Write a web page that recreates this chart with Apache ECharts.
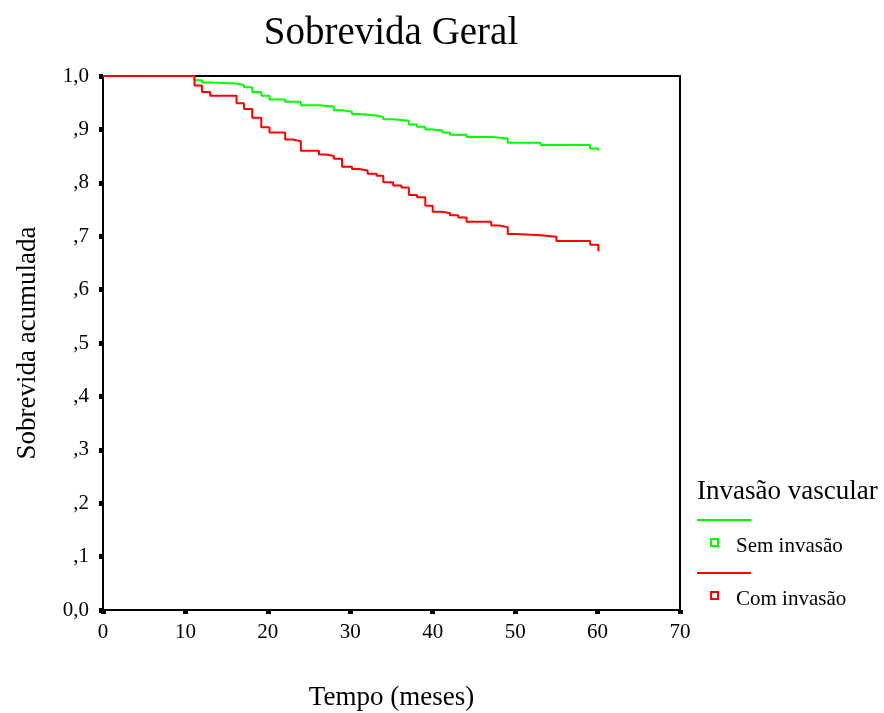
<!DOCTYPE html>
<html>
<head>
<meta charset="utf-8">
<script src="https://cdn.jsdelivr.net/npm/echarts@6/dist/echarts.min.js"></script>
<style>html,body{margin:0;padding:0;background:#fff}#c{width:884px;height:713px}</style>
</head>
<body>
<div id="c"></div>
<script>
// Kaplan-Meier steps: [time (months), cumulative survival]
const semInvasaoTime = [0, 11.1, 12.0, 13.0, 16.2, 17.1, 18.1, 19.2, 20.2, 22.1, 24.0, 26.2, 28.0, 29.0, 30.2, 31.1, 33.2, 34.0, 35.2, 37.1, 38.1, 39.1, 40.0, 41.2, 42.1, 44.1, 47.1, 49.1, 53.1, 59.1, 60.1];
const semInvasaoSurv = [1.0, 0.992, 0.988, 0.986, 0.983, 0.979, 0.970, 0.963, 0.956, 0.952, 0.945, 0.943, 0.936, 0.933, 0.929, 0.926, 0.923, 0.919, 0.916, 0.909, 0.905, 0.900, 0.898, 0.894, 0.890, 0.886, 0.883, 0.875, 0.871, 0.864, 0.860];
const comInvasaoTime = [0, 11.1, 12.0, 13.0, 16.2, 17.1, 18.1, 19.2, 20.2, 22.1, 23.0, 24.0, 26.2, 27.1, 28.0, 29.0, 30.2, 31.1, 32.1, 33.2, 34.0, 35.2, 36.2, 37.1, 38.1, 39.1, 40.0, 41.2, 42.1, 43.1, 44.1, 47.1, 48.1, 49.1, 50.1, 53.1, 55.0, 59.1, 60.1];
const comInvasaoSurv = [1.0, 0.982, 0.970, 0.963, 0.949, 0.938, 0.922, 0.904, 0.894, 0.881, 0.878, 0.860, 0.853, 0.850, 0.845, 0.830, 0.826, 0.823, 0.817, 0.813, 0.801, 0.795, 0.791, 0.777, 0.773, 0.757, 0.746, 0.743, 0.739, 0.735, 0.727, 0.720, 0.717, 0.704, 0.702, 0.699, 0.691, 0.684, 0.672];
const seriesNames = ['Sem invasão', 'Com invasão'];
const seriesColors = ['#00ff00', '#ff0000'];
const yTickLabels = ['0,0', ',1', ',2', ',3', ',4', ',5', ',6', ',7', ',8', ',9', '1,0'];
const xTicks = [0, 10, 20, 30, 40, 50, 60, 70];

const zip = (a, b) => a.map((t, i) => [t, b[i]]);
const font = 'Liberation Serif';
const chart = echarts.init(document.getElementById('c'));
chart.setOption({
  backgroundColor: '#fff',
  animation: false,
  title: {
    text: 'Sobrevida Geral', left: 386, top: 9, textAlign: 'center',
    textStyle: { fontFamily: font, fontSize: 39, fontWeight: 'normal', color: '#000' }
  },
  grid: { left: 103, right: 204, top: 76, bottom: 103, outerBoundsMode: 'none', containLabel: false, show: true, borderColor: '#000', borderWidth: 2, backgroundColor: 'transparent' },
  xAxis: {
    type: 'value', min: 0, max: 70, interval: 10,
    name: 'Tempo (meses)', nameLocation: 'middle', nameGap: 74,
    nameTextStyle: { fontFamily: font, fontSize: 27, color: '#000' },
    axisLine: { show: true, lineStyle: { color: '#000', width: 2 } },
    axisTick: { show: true, length: 4, lineStyle: { color: '#000', width: 5 } },
    axisLabel: { margin: 12, fontFamily: font, fontSize: 21, color: '#000', formatter: v => xTicks.includes(v) ? String(v) : '' },
    splitLine: { show: false }
  },
  yAxis: {
    type: 'value', min: 0, max: 1, interval: 0.1,
    name: 'Sobrevida acumulada', nameLocation: 'middle', nameGap: 62, nameRotate: 90,
    nameTextStyle: { fontFamily: font, fontSize: 27, color: '#000' },
    axisLine: { show: true, lineStyle: { color: '#000', width: 2 } },
    axisTick: { show: true, length: 4, lineStyle: { color: '#000', width: 5 } },
    axisLabel: { margin: 14, fontFamily: font, fontSize: 21, color: '#000', padding: [3, 0, 0, 0], formatter: v => yTickLabels[Math.round(v * 10)] },
    splitLine: { show: false }
  },
  series: [
    { name: seriesNames[0], type: 'line', step: 'end', showSymbol: false, data: zip(semInvasaoTime, semInvasaoSurv), lineStyle: { color: seriesColors[0], width: 2 }, itemStyle: { color: seriesColors[0] }, z: 2 },
    { name: seriesNames[1], type: 'line', step: 'end', showSymbol: false, data: zip(comInvasaoTime, comInvasaoSurv), lineStyle: { color: seriesColors[1], width: 2 }, itemStyle: { color: seriesColors[1] }, z: 3 }
  ],
  graphic: [
    { type: 'text', left: 697, top: 478, style: { text: 'Invasão vascular', font: '27px "Liberation Serif"', fill: '#000' } },
    { type: 'line', shape: { x1: 697, y1: 520, x2: 751, y2: 520 }, style: { stroke: seriesColors[0], lineWidth: 2 } },
    { type: 'rect', shape: { x: 711, y: 539, width: 7, height: 7 }, style: { stroke: seriesColors[0], fill: 'none', lineWidth: 2 } },
    { type: 'text', left: 736, top: 536, style: { text: seriesNames[0], font: '21px "Liberation Serif"', fill: '#000' } },
    { type: 'line', shape: { x1: 697, y1: 573, x2: 751, y2: 573 }, style: { stroke: seriesColors[1], lineWidth: 2 } },
    { type: 'rect', shape: { x: 711, y: 592, width: 7, height: 7 }, style: { stroke: seriesColors[1], fill: 'none', lineWidth: 2 } },
    { type: 'text', left: 736, top: 589, style: { text: seriesNames[1], font: '21px "Liberation Serif"', fill: '#000' } }
  ]
});
</script>
</body>
</html>
